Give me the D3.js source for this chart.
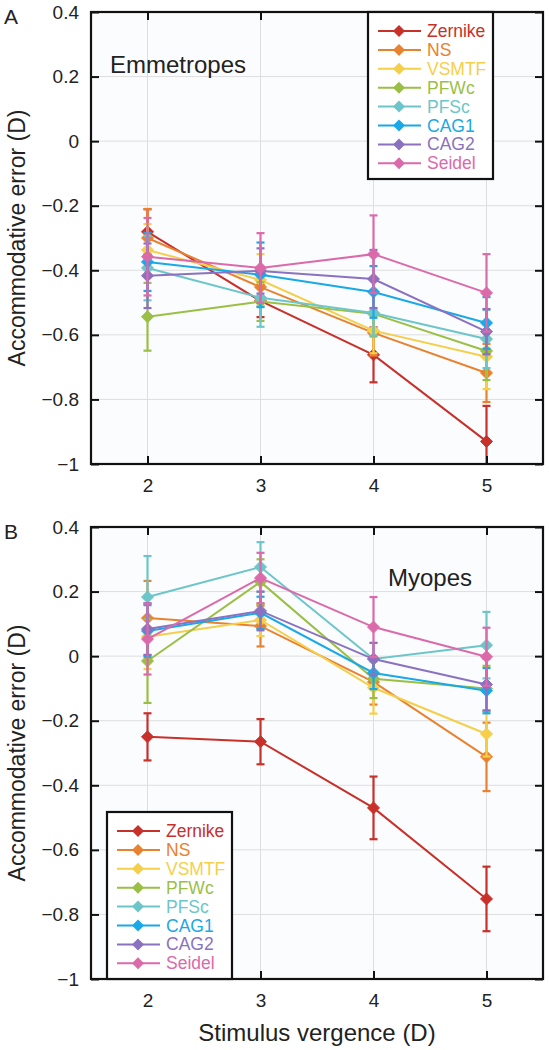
<!DOCTYPE html>
<html>
<head>
<meta charset="utf-8">
<script src="https://cdn.jsdelivr.net/npm/d3@7"></script>
<style>
  html, body { margin: 0; padding: 0; background: #ffffff; }
  svg { display: block; }
  text { font-family: "Liberation Sans", Arial, Helvetica, sans-serif; }
</style>
</head>
<body>
<svg id="chart" width="549" height="1050"></svg>
<script>
// ---------- data ----------
const categories = [2, 3, 4, 5];
const seriesNames = ["Zernike", "NS", "VSMTF", "PFWc", "PFSc", "CAG1", "CAG2", "Seidel"];
const seriesColors = ["#c8302a", "#e8822e", "#f5cf4a", "#9bbf45", "#6cc6c9", "#1aa8e6", "#8a72c0", "#db6aab"];
const yTickValues = [-1, -0.8, -0.6, -0.4, -0.2, 0, 0.2, 0.4];

// Emmetropes (panel A): mean per vergence, one row per series
const emmMeans = [
  [-0.281, -0.495, -0.662, -0.930],
  [-0.300, -0.452, -0.594, -0.718],
  [-0.337, -0.430, -0.587, -0.668],
  [-0.544, -0.497, -0.535, -0.650],
  [-0.393, -0.485, -0.532, -0.613],
  [-0.374, -0.414, -0.467, -0.563],
  [-0.417, -0.402, -0.427, -0.590],
  [-0.358, -0.393, -0.350, -0.470]
];
const emmErrors = [
  [0.070, 0.050, 0.085, 0.110],
  [0.090, 0.060, 0.070, 0.090],
  [0.080, 0.080, 0.070, 0.100],
  [0.105, 0.060, 0.070, 0.090],
  [0.100, 0.090, 0.070, 0.090],
  [0.090, 0.100, 0.080, 0.080],
  [0.100, 0.070, 0.090, 0.070],
  [0.120, 0.108, 0.120, 0.120]
];

// Myopes (panel B)
const myoMeans = [
  [-0.250, -0.265, -0.470, -0.752],
  [ 0.118,  0.093, -0.080, -0.312],
  [ 0.060,  0.112, -0.098, -0.241],
  [-0.015,  0.230, -0.070, -0.100],
  [ 0.183,  0.276, -0.009,  0.034],
  [ 0.078,  0.134, -0.052, -0.107],
  [ 0.084,  0.140, -0.009, -0.088],
  [ 0.053,  0.242,  0.090, -0.002]
];
const myoErrors = [
  [0.073, 0.070, 0.097, 0.100],
  [0.115, 0.063, 0.070, 0.106],
  [0.100, 0.050, 0.080, 0.070],
  [0.130, 0.070, 0.060, 0.070],
  [0.127, 0.077, 0.050, 0.103],
  [0.080, 0.050, 0.050, 0.070],
  [0.080, 0.060, 0.050, 0.080],
  [0.110, 0.078, 0.093, 0.090]
];

// ---------- drawing ----------
const svg = d3.select("#chart");
const left = 91, right = 543;
const x = d3.scaleLinear().domain([1.5, 5.5]).range([left, right]);

const fmt = d => {
  const s = Math.abs(d - Math.round(d)) < 1e-9 ? String(Math.round(d)) : d.toFixed(1);
  return s.replace("-", "\u2212");
};
const diamond = r => `M0,${-r}L${r},0L0,${r}L${-r},0Z`;

const panels = [
  { top: 12, bottom: 464, means: emmMeans, errs: emmErrors, letter: "A", letterY: 24,
    title: "Emmetropes", titleX: 110, titleY: 73, legendX: 368, legendY: 12, id: "a" },
  { top: 527, bottom: 979, means: myoMeans, errs: myoErrors, letter: "B", letterY: 539,
    title: "Myopes", titleX: 388, titleY: 586, legendX: 107, legendY: 812, id: "b" }
];

panels.forEach(p => {
  const y = d3.scaleLinear().domain([-1, 0.4]).range([p.bottom, p.top]);
  const g = svg.append("g");

  g.append("rect").attr("x", left).attr("y", p.top)
    .attr("width", right - left).attr("height", p.bottom - p.top)
    .attr("fill", "#fbfcfe");

  svg.append("clipPath").attr("id", "clip-" + p.id)
    .append("rect").attr("x", left).attr("y", p.top)
    .attr("width", right - left).attr("height", p.bottom - p.top);

  // grid
  g.append("g").selectAll("line").data(yTickValues).join("line")
    .attr("x1", left).attr("x2", right)
    .attr("y1", d => y(d)).attr("y2", d => y(d))
    .attr("stroke", "#dedede").attr("stroke-width", 1);
  g.append("g").selectAll("line").data(categories).join("line")
    .attr("x1", d => x(d)).attr("x2", d => x(d))
    .attr("y1", p.top).attr("y2", p.bottom)
    .attr("stroke", "#dedede").attr("stroke-width", 1);

  // series
  const plot = g.append("g").attr("clip-path", `url(#clip-${p.id})`);
  seriesNames.forEach((name, i) => {
    const col = seriesColors[i];
    const pts = categories.map((c, j) => ({ c, m: p.means[i][j], e: p.errs[i][j] }));
    const sg = plot.append("g");
    sg.append("path")
      .attr("d", d3.line().x(d => x(d.c)).y(d => y(d.m))(pts))
      .attr("fill", "none").attr("stroke", col).attr("stroke-width", 2);
    sg.selectAll(".eb").data(pts).join("line")
      .attr("x1", d => x(d.c)).attr("x2", d => x(d.c))
      .attr("y1", d => y(d.m - d.e)).attr("y2", d => y(d.m + d.e))
      .attr("stroke", col).attr("stroke-width", 2.2);
    sg.selectAll(".capt").data(pts).join("line")
      .attr("x1", d => x(d.c) - 4).attr("x2", d => x(d.c) + 4)
      .attr("y1", d => y(d.m + d.e)).attr("y2", d => y(d.m + d.e))
      .attr("stroke", col).attr("stroke-width", 2.2);
    sg.selectAll(".capb").data(pts).join("line")
      .attr("x1", d => x(d.c) - 4).attr("x2", d => x(d.c) + 4)
      .attr("y1", d => y(d.m - d.e)).attr("y2", d => y(d.m - d.e))
      .attr("stroke", col).attr("stroke-width", 2.2);
    sg.selectAll(".mk").data(pts).join("path")
      .attr("d", diamond(6))
      .attr("transform", d => `translate(${x(d.c)},${y(d.m)})`)
      .attr("fill", col).attr("stroke", col).attr("stroke-width", 1);
  });

  // axes
  const axL = g.append("g").attr("transform", `translate(${left},0)`)
    .call(d3.axisLeft(y).tickValues(yTickValues).tickSize(-8).tickPadding(12).tickFormat(fmt));
  const axR = g.append("g").attr("transform", `translate(${right},0)`)
    .call(d3.axisRight(y).tickValues(yTickValues).tickSize(-8).tickFormat(""));
  const axB = g.append("g").attr("transform", `translate(0,${p.bottom})`)
    .call(d3.axisBottom(x).tickValues(categories).tickSize(-8).tickPadding(15).tickFormat(d3.format("d")));
  const axT = g.append("g").attr("transform", `translate(0,${p.top})`)
    .call(d3.axisTop(x).tickValues(categories).tickSize(-8).tickFormat(""));
  [axL, axR, axB, axT].forEach(a => {
    a.select(".domain").remove();
    a.selectAll(".tick line").attr("stroke", "#111").attr("stroke-width", 2);
    a.selectAll("text").attr("font-size", 19).attr("fill", "#222")
      .attr("font-family", "'Liberation Sans', Arial, sans-serif");
  });

  // box
  g.append("rect").attr("x", left).attr("y", p.top)
    .attr("width", right - left).attr("height", p.bottom - p.top)
    .attr("fill", "none").attr("stroke", "#111").attr("stroke-width", 2.2);

  g.append("text").attr("x", 4).attr("y", p.letterY).text(p.letter)
    .attr("font-size", 21).attr("fill", "#222");

  g.append("text").attr("x", p.titleX).attr("y", p.titleY).text(p.title)
    .attr("font-size", 24).attr("fill", "#222");

  g.append("text")
    .attr("transform", `translate(25,${(p.top + p.bottom) / 2}) rotate(-90)`)
    .attr("text-anchor", "middle").text("Accommodative error (D)")
    .attr("font-size", 23).attr("fill", "#222");

  // legend
  const lg = g.append("g").attr("transform", `translate(${p.legendX},${p.legendY})`);
  lg.append("rect").attr("x", 0).attr("y", 0).attr("width", 125).attr("height", 167)
    .attr("fill", "#ffffff").attr("stroke", "#111").attr("stroke-width", 2.2);
  seriesNames.forEach((name, i) => {
    const ly = 19 + i * 18.9;
    lg.append("line").attr("x1", 10).attr("x2", 53).attr("y1", ly).attr("y2", ly)
      .attr("stroke", seriesColors[i]).attr("stroke-width", 2);
    lg.append("path").attr("d", diamond(6))
      .attr("transform", `translate(31,${ly})`).attr("fill", seriesColors[i]);
    lg.append("text").attr("x", 59).attr("y", ly + 6).text(name)
      .attr("font-size", 17.5).attr("fill", seriesColors[i]);
  });
});

svg.append("text").attr("x", (left + right) / 2).attr("y", 1041)
  .attr("text-anchor", "middle").text("Stimulus vergence (D)")
  .attr("font-size", 24).attr("fill", "#222");
</script>
</body>
</html>
